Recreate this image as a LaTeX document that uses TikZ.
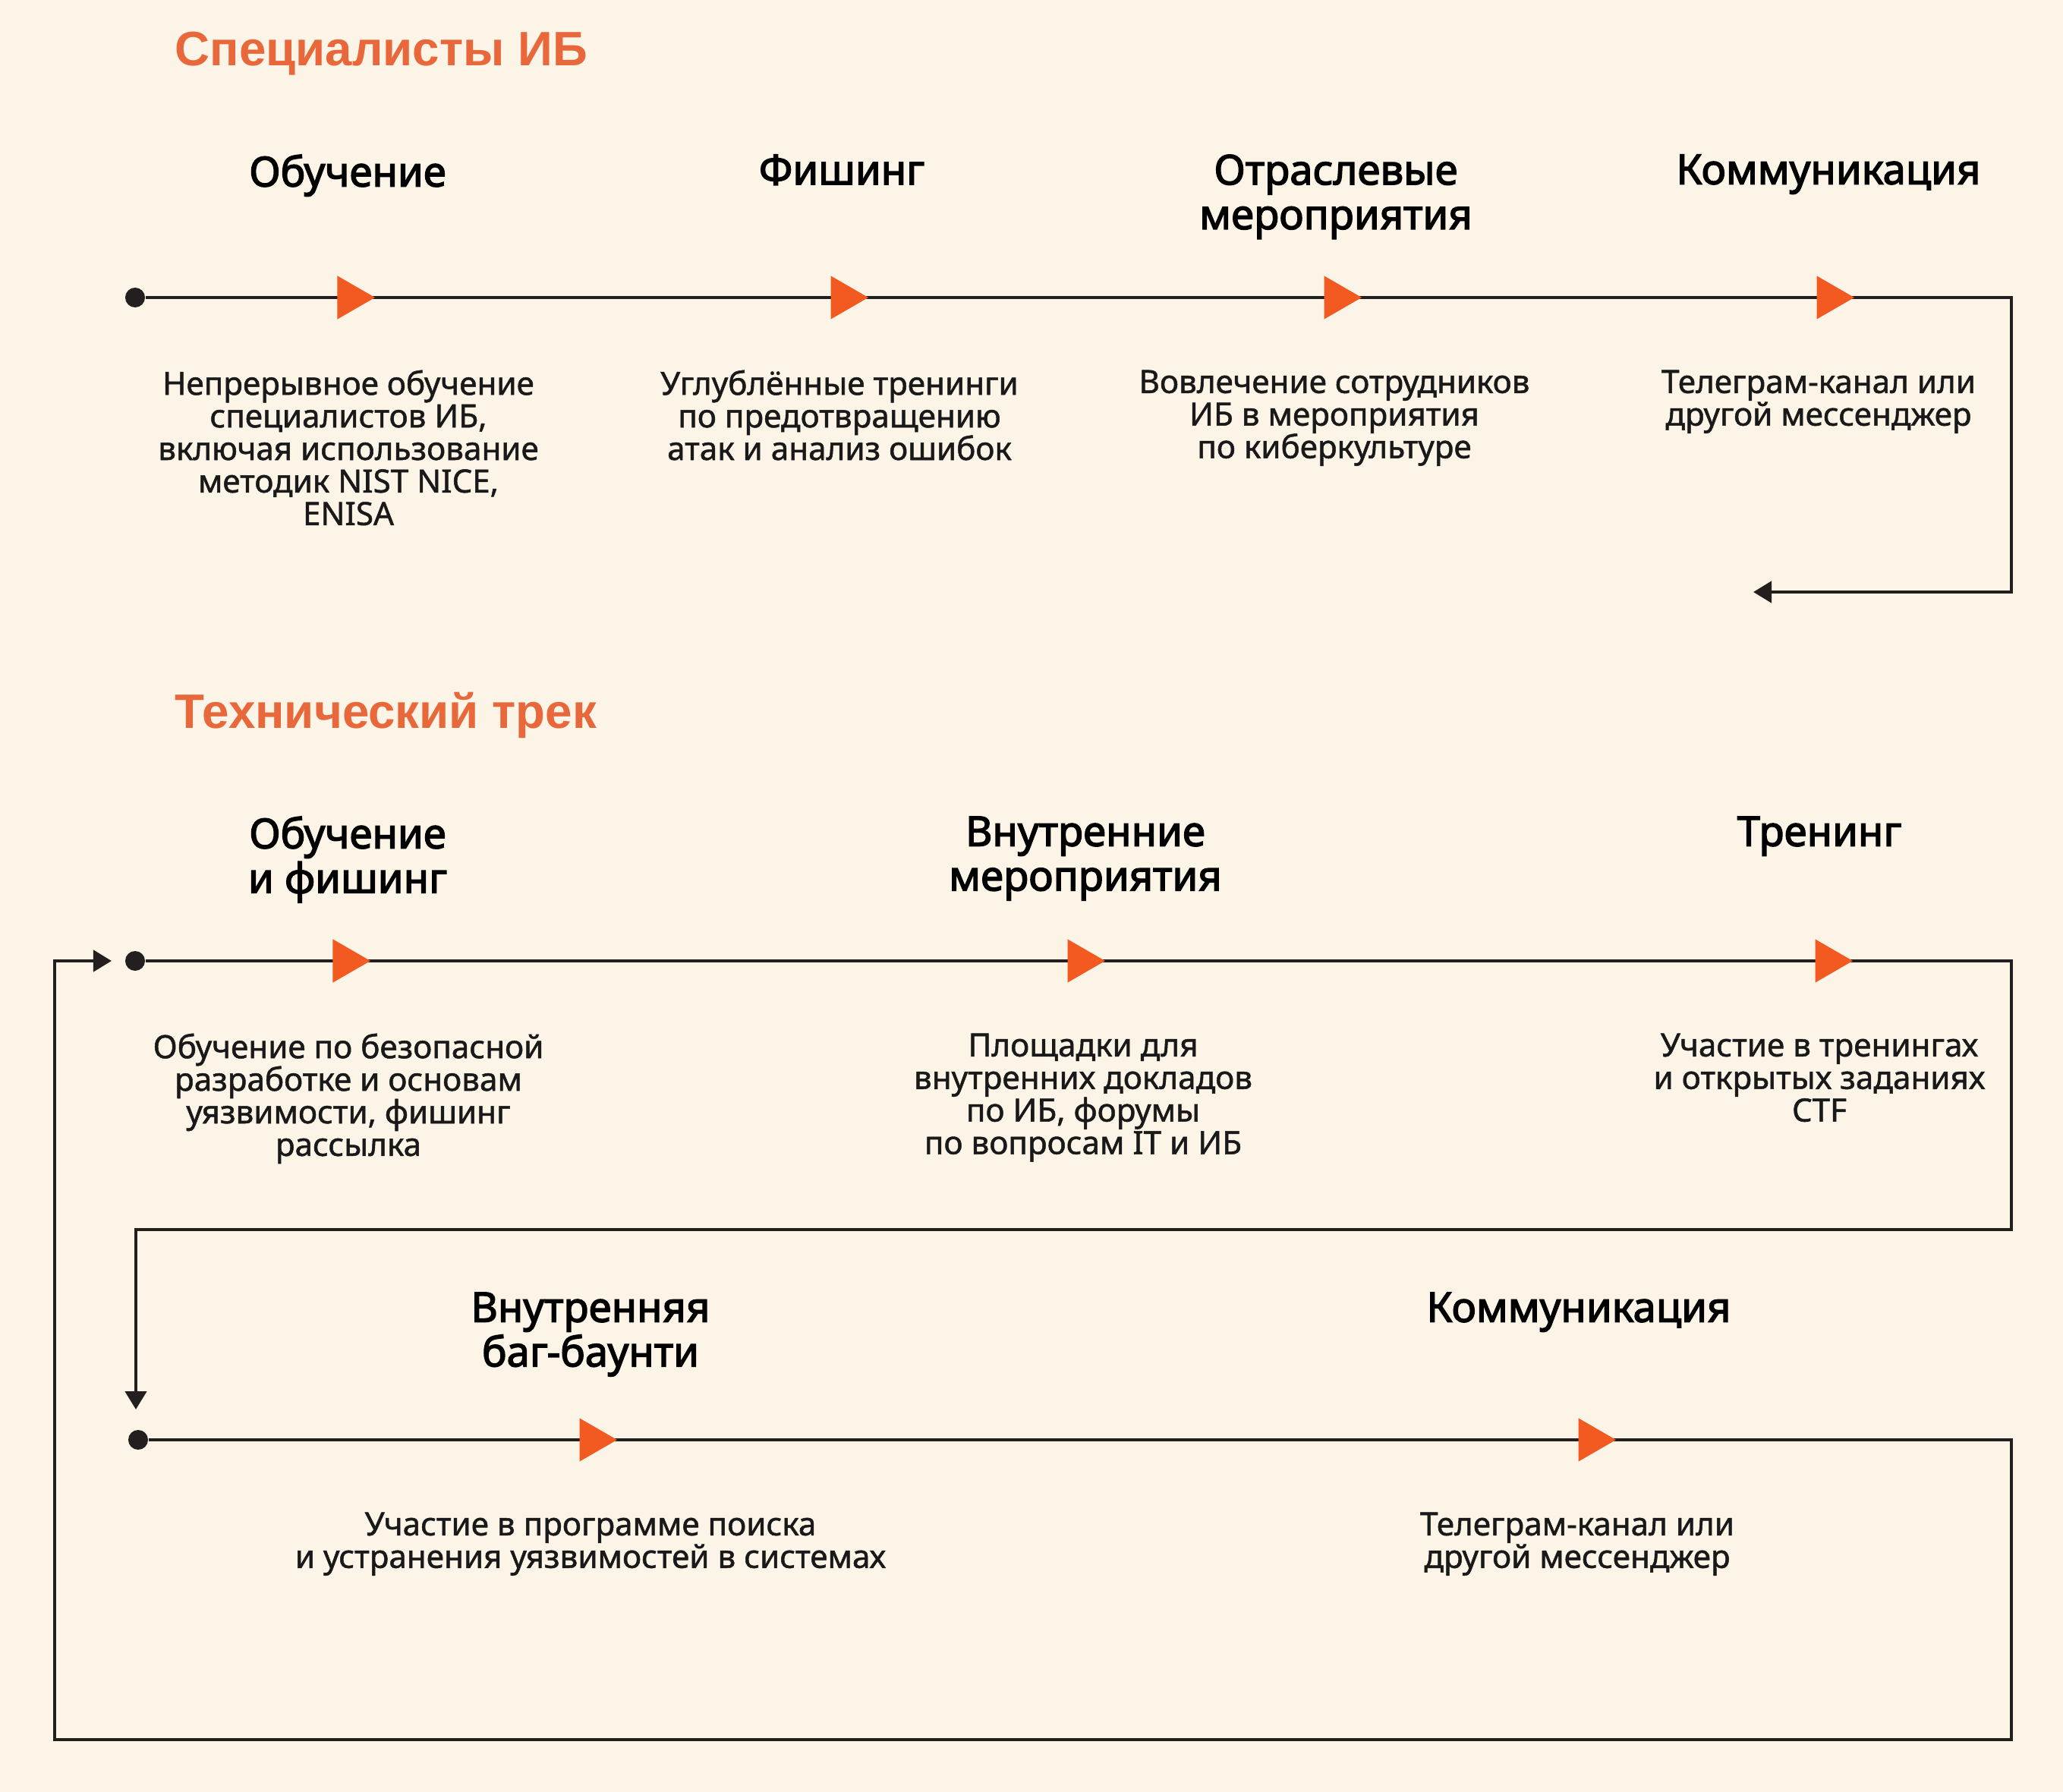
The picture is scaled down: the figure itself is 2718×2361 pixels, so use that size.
\documentclass[tikz,border=0pt]{standalone}
\usepackage{fontspec}
\setmainfont{Noto Sans}
\newfontfamily\descfont{Noto Sans}[FakeBold=1.2]
\newfontfamily\headfont{Noto Sans}[FakeBold=2.6]
\newfontfamily\titlefont{Liberation Sans}
\usetikzlibrary{arrows.meta,shapes.geometric}

\definecolor{bgcream}{RGB}{251,244,231}
\definecolor{titleorange}{RGB}{232,104,60}
\definecolor{markorange}{RGB}{242,90,34}
\definecolor{linedark}{RGB}{35,31,30}

\tikzset{
  track/.style={draw=linedark, line width=1.3pt},
  loopback/.style={track, -{Triangle[length=0.24cm,width=0.28cm]}},
  startdot/.style={circle, fill=linedark, inner sep=0pt, minimum size=0.26cm},
  marker/.style={regular polygon, regular polygon sides=3, rotate=-90, fill=markorange, inner sep=0pt, minimum size=0.66cm},
  heading/.style={align=center, anchor=north, inner sep=0pt, text=black, font=\headfont\fontsize{15.5}{16.7}\selectfont},
  desc/.style={align=center, anchor=north, inner sep=0pt, text=black!90, font=\descfont\fontsize{12}{12.2}\selectfont},
  sectitle/.style={anchor=west, inner sep=0pt, text=titleorange, font=\titlefont\fontsize{18.1}{20}\selectfont\bfseries}
}

\begin{document}
\begin{tikzpicture}[x=0.01cm,y=-0.01cm]
    \fill[bgcream] (0,0) rectangle (2718,2361);

    \node[sectitle] (title1) at (230,71) {Специалисты ИБ};
    \node[sectitle] (title2) at (230,942) {Технический трек};

    \node[startdot] (s1) at (178,392) {};
    \node[startdot] (s2) at (178,1266) {};
    \node[startdot] (s3) at (182,1897) {};
    \coordinate (c1) at (2650,392);
    \coordinate (e1) at (2310,780);
    \coordinate (c2) at (2650,1266);
    \coordinate (c3) at (179,1620);
    \coordinate (e2) at (179,1857);
    \coordinate (c4) at (2650,1897);
    \coordinate (c5) at (72,2292);
    \coordinate (e3) at (147,1266);

    \draw[loopback] (s1) -- (c1) |- (e1);
    \draw[loopback] (s2) -- (c2) |- (c3) -- (e2);
    \draw[loopback] (s3) -- (c4) |- (c5) |- (e3);

    \node[marker] (m11) at (461,392) {};
    \node[marker] (m12) at (1111,392) {};
    \node[marker] (m13) at (1761,392) {};
    \node[marker] (m14) at (2410,392) {};
    \node[marker] (m21) at (455,1266) {};
    \node[marker] (m22) at (1423,1266) {};
    \node[marker] (m23) at (2408,1266) {};
    \node[marker] (m31) at (780,1897) {};
    \node[marker] (m32) at (2096,1897) {};

    \node[heading] (h11) at (458,203) {Обучение};
    \node[heading] (h12) at (1109,203) {Фишинг};
    \node[heading] (h13) at (1760,203) {Отраслевые\\мероприятия};
    \node[heading] (h14) at (2409,203) {Коммуникация};
    \node[desc] (d11) at (459,487) {Непрерывное обучение\\специалистов ИБ,\\включая использование\\методик NIST NICE,\\ENISA};
    \node[desc] (d12) at (1106,487) {Углублённые тренинги\\по предотвращению\\атак и анализ ошибок};
    \node[desc] (d13) at (1758,487) {Вовлечение сотрудников\\ИБ в мероприятия\\по киберкультуре};
    \node[desc] (d14) at (2396,487) {Телеграм-канал или\\другой мессенджер};

    \node[heading] (h21) at (458,1075) {Обучение\\и фишинг};
    \node[heading] (h22) at (1430,1075) {Внутренние\\мероприятия};
    \node[heading] (h23) at (2397,1075) {Тренинг};
    \node[desc] (d21) at (459,1361) {Обучение по безопасной\\разработке и основам\\уязвимости, фишинг\\рассылка};
    \node[desc] (d22) at (1427,1361) {Площадки для\\внутренних докладов\\по ИБ, форумы\\по вопросам IT и ИБ};
    \node[desc] (d23) at (2397,1361) {Участие в тренингах\\и открытых заданиях\\CTF};

    \node[heading] (h31) at (778,1702) {Внутренняя\\баг-баунти};
    \node[heading] (h32) at (2080,1702) {Коммуникация};
    \node[desc] (d31) at (778,1992) {Участие в программе поиска\\и устранения уязвимостей в системах};
    \node[desc] (d32) at (2078,1992) {Телеграм-канал или\\другой мессенджер};
\end{tikzpicture}
\end{document}
